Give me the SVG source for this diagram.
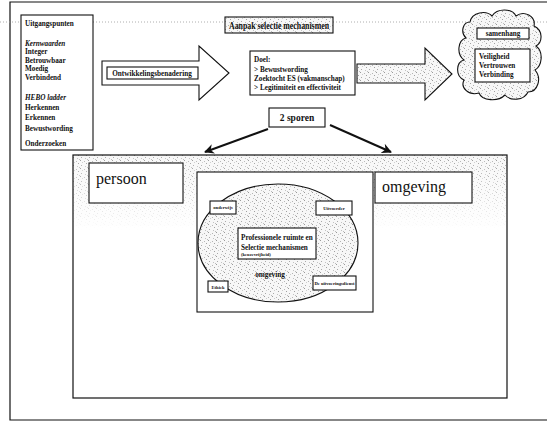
<svg xmlns="http://www.w3.org/2000/svg" width="547" height="423" viewBox="0 0 547 423">
  <style>
    .box { fill: #fff; stroke: #111; stroke-width: 1.1; }
    .dots { fill: url(#stipple); stroke: #111; stroke-width: 1.1; }
    .t { font-family: "Liberation Serif", "DejaVu Serif", serif; fill: #111; }
    .sm { font-size: 7.2px; font-weight: bold; }
    .it { font-style: italic; }
    .xs { font-size: 4.6px; font-weight: bold; }
    .big { font-size: 16px; }
    .frame { fill: none; stroke: #111; stroke-width: 1.2; }
    .conn { stroke: #111; stroke-width: 2; fill: none; }
  </style>
  <defs>
    <pattern id="stipple" width="8" height="8" patternUnits="userSpaceOnUse">
      <rect width="8" height="8" fill="#f7f7f7"/>
      <rect x="0" y="0" width="1" height="1" fill="#9a9a9a"/>
      <rect x="4" y="1" width="1" height="1" fill="#b5b5b5"/>
      <rect x="6" y="3" width="1" height="1" fill="#a0a0a0"/>
      <rect x="1" y="5" width="1" height="1" fill="#aaaaaa"/>
      <rect x="5" y="6" width="1" height="1" fill="#c2c2c2"/>
      <rect x="2" y="2" width="1" height="1" fill="#cccccc"/>
      <rect x="7" y="7" width="1" height="1" fill="#bdbdbd"/>
    </pattern>
    <linearGradient id="fade" x1="0" y1="0" x2="0" y2="1">
      <stop offset="0" stop-color="#fff" stop-opacity="1"/>
      <stop offset="0.3" stop-color="#fff" stop-opacity="0.75"/>
      <stop offset="1" stop-color="#fff" stop-opacity="0"/>
    </linearGradient>
    <mask id="bandMask">
      <rect x="73" y="155" width="434" height="75" fill="url(#fade)"/>
    </mask>
    <marker id="head" viewBox="0 0 10 10" refX="9" refY="5" markerWidth="5" markerHeight="5" orient="auto">
      <path d="M0,0 L10,5 L0,10 L3,5 Z" fill="#111"/>
    </marker>
  </defs>

  <!-- page frame -->
  <path class="frame" d="M547,2 H10 V420 H547" stroke-width="1.6"/>
  <line x1="0" y1="22" x2="547" y2="22" stroke="#999" stroke-width="0.8" stroke-dasharray="1 2"/>

  <!-- starting points -->
  <g id="uitgangspunten">
    <rect class="box" x="21" y="15" width="72" height="135"/>
    <text class="t sm" x="25" y="26" font-size="8">Uitgangspunten</text>
    <text class="t sm it" x="25" y="46">Kernwaarden</text>
    <text class="t sm" x="25" y="54">Integer</text>
    <text class="t sm" x="25" y="63">Betrouwbaar</text>
    <text class="t sm" x="25" y="71">Moedig</text>
    <text class="t sm" x="25" y="80">Verbindend</text>
    <text class="t sm it" x="25" y="100">HEBO ladder</text>
    <text class="t sm" x="25" y="110">Herkennen</text>
    <text class="t sm" x="25" y="120">Erkennen</text>
    <text class="t sm" x="25" y="131">Bewustwording</text>
    <text class="t sm" x="25" y="146">Onderzoeken</text>
  </g>

  <!-- title -->
  <g id="titel">
    <rect class="dots" x="225" y="17" width="108" height="16"/>
    <text class="t" x="279" y="28.5" font-size="9.6" font-weight="bold" text-anchor="middle" textLength="100" lengthAdjust="spacingAndGlyphs">Aanpak selectie mechanismen</text>
  </g>

  <!-- development approach arrow -->
  <g id="ontwikkeling">
    <path class="box" d="M102,61 H199 V46 L229,73 L199,100 V85 H102 Z"/>
    <rect class="box" x="107" y="67" width="91" height="12"/>
    <text class="t sm" x="152" y="76" font-size="6.2" text-anchor="middle">Ontwikkelingsbenadering</text>
  </g>

  <!-- goal -->
  <g id="doel">
    <rect class="box" x="250" y="51" width="105" height="44"/>
    <text class="t sm" x="254" y="62" font-size="7.6">Doel:</text>
    <text class="t sm" x="254" y="72">&gt; Bewustwording</text>
    <text class="t sm" x="254" y="81">Zoektocht ES (vakmanschap)</text>
    <text class="t sm" x="254" y="90">&gt; Legitimiteit en effectiviteit</text>
  </g>

  <!-- result arrow -->
  <g id="resultaat">
    <path class="dots" d="M357,64 H425 V48 L452,74 L425,100 V83 H357 Z"/>
  </g>

  <!-- cloud -->
  <g id="wolk">
    <path class="dots" d="M470,22 C472,12 486,10 492,16 C497,8 512,8 516,16 C524,10 536,16 534,26 C543,30 543,42 536,46 C544,52 542,66 535,70 C542,78 538,92 528,92 C524,101 510,101 505,95 C498,102 482,101 479,93 C469,96 460,88 464,80 C455,76 456,62 464,60 C456,54 458,40 466,38 C460,32 463,22 470,22 Z"/>
    <rect class="box" x="477" y="28" width="52" height="11"/>
    <text class="t sm" x="503" y="36" font-size="6.4" text-anchor="middle">samenhang</text>
    <rect class="box" x="475" y="49" width="55" height="33"/>
    <text class="t sm" x="479" y="59">Veiligheid</text>
    <text class="t sm" x="479" y="68">Vertrouwen</text>
    <text class="t sm" x="479" y="77">Verbinding</text>
  </g>

  <!-- two tracks -->
  <g id="sporen">
    <rect class="box" x="269" y="108" width="56" height="19"/>
    <text class="t" x="297" y="121" font-size="9.5" font-weight="bold" text-anchor="middle">2 sporen</text>
  </g>

  <g id="connectors">
    <line class="conn" x1="268" y1="129" x2="205" y2="152" marker-end="url(#head)"/>
    <line class="conn" x1="330" y1="125" x2="391" y2="152" marker-end="url(#head)"/>
  </g>

  <!-- working area -->
  <g id="werkveld">
    <rect x="73" y="155" width="434" height="243" fill="#fff" stroke="none"/>
    <rect x="73" y="155" width="434" height="75" fill="url(#stipple)" mask="url(#bandMask)"/>
    <rect class="frame" x="73" y="155" width="434" height="243"/>
  </g>

  <g id="persoon">
    <rect class="box" x="89" y="163" width="94" height="40"/>
    <text class="t big" x="96" y="184">persoon</text>
  </g>

  <g id="omgeving">
    <rect class="box" x="375" y="172" width="97" height="31"/>
    <text class="t big" x="382" y="192">omgeving</text>
  </g>

  <g id="kern">
    <rect class="box" x="197" y="172" width="176" height="140"/>
    <ellipse class="dots" cx="278" cy="243" rx="80" ry="59"/>
    <rect class="box" x="210" y="201" width="26" height="13"/>
    <text class="t xs" x="223" y="209" text-anchor="middle">onderwijs</text>
    <rect class="box" x="316" y="201" width="36" height="14"/>
    <text class="t xs" x="334" y="209.5" text-anchor="middle">Uitvoerder</text>
    <rect class="box" x="238" y="228" width="78" height="31"/>
    <text class="t sm" x="241" y="240" font-size="7">Professionele ruimte en</text>
    <text class="t sm" x="241" y="250" font-size="7">Selectie mechanismen</text>
    <text class="t xs" x="241" y="256" font-size="3.6">(keuzevrijheid)</text>
    <text class="t sm" x="270" y="277" font-size="6" text-anchor="middle">omgeving</text>
    <rect class="box" x="208" y="281" width="20" height="11"/>
    <text class="t xs" x="218" y="288.5" text-anchor="middle">Ethiek</text>
    <rect class="box" x="313" y="276" width="43" height="14"/>
    <text class="t xs" x="334.5" y="284.5" font-size="4" text-anchor="middle">De uitvoeringsdienst</text>
  </g>
</svg>
